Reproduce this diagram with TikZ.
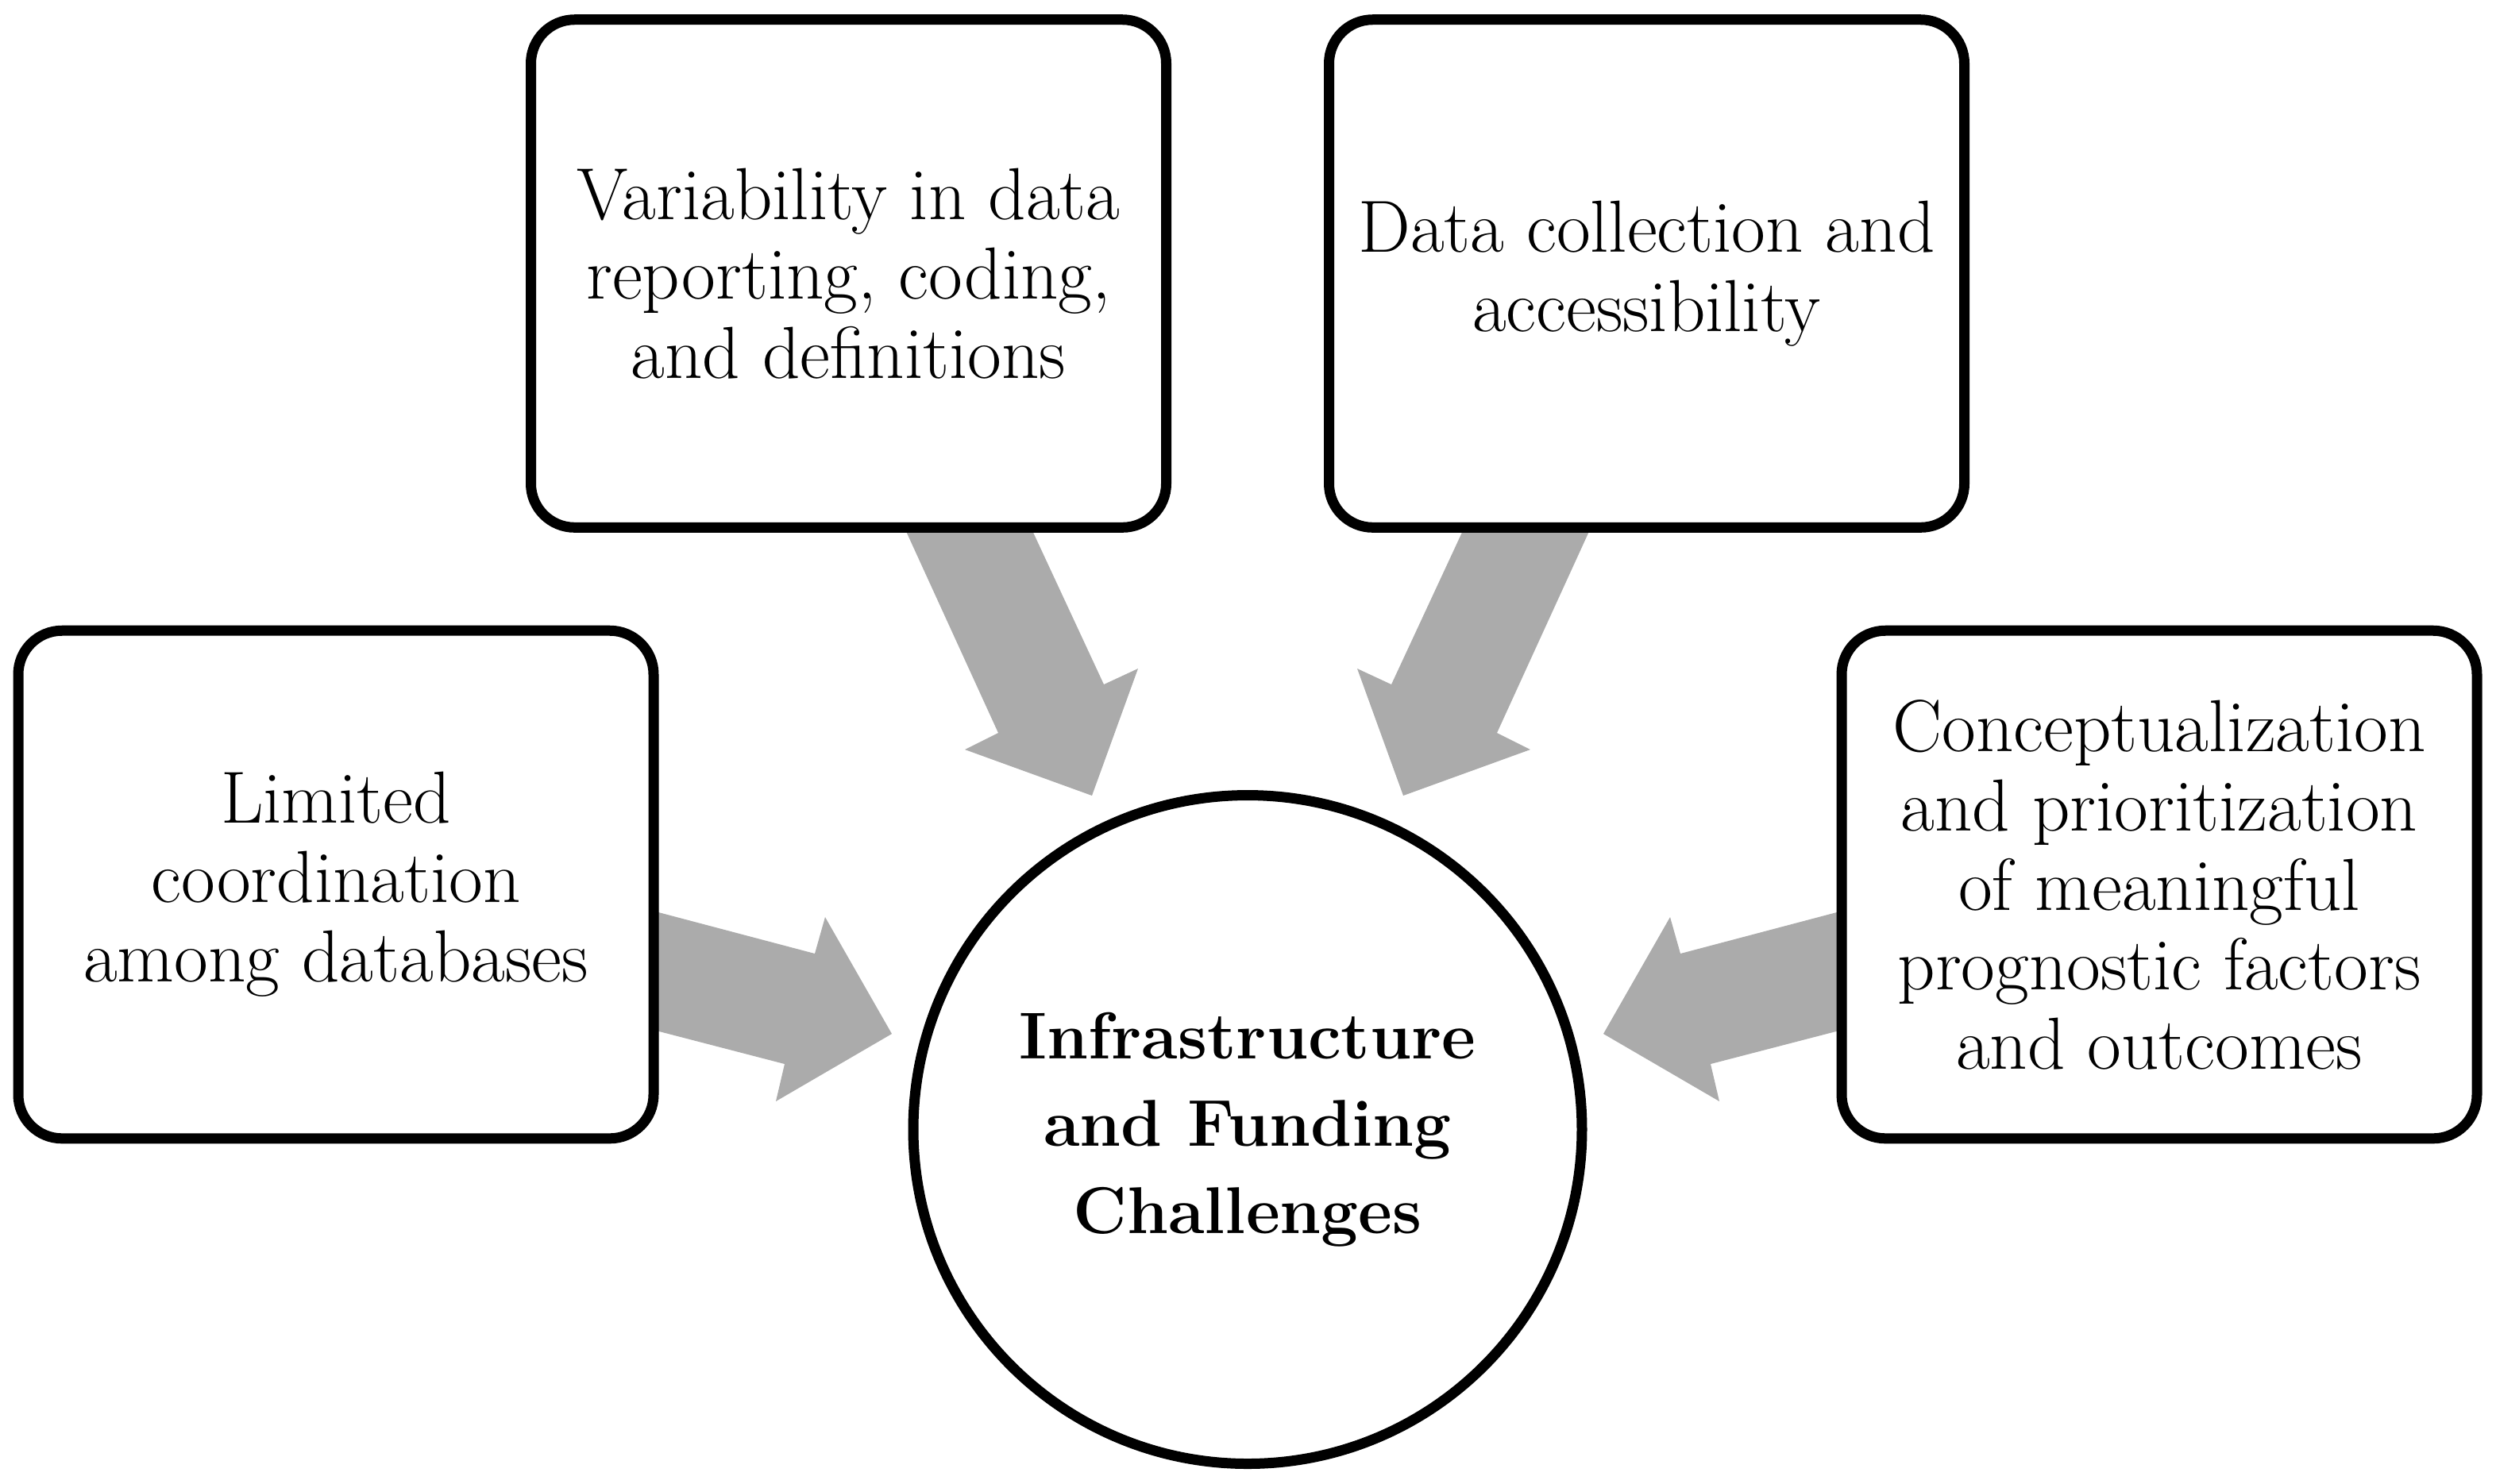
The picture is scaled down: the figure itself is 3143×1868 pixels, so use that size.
\documentclass[tikz,border=0pt]{standalone}
\usepackage{fontspec}
\definecolor{arrowgray}{RGB}{171,171,171}
\pgfdeclarelayer{bg}
\pgfsetlayers{bg,main}
\tikzset{
  box/.style={draw=black, line width=3.12pt, rounded corners=13.2pt, fill=white,
    minimum width=192pt, minimum height=153.5pt, align=center, inner sep=0pt,
    font=\fontsize{22.3}{24}\selectfont},
  hub/.style={circle, draw=black, line width=3.12pt, fill=white,
    minimum size=202.08pt, inner sep=0pt, align=center,
    font=\fontsize{20}{26.4}\selectfont\bfseries},
  blockarrow/.style={fill=arrowgray, draw=none}
}
\begin{document}
\begin{tikzpicture}[x=0.24pt,y=-0.24pt]
\useasboundingbox (0,0) rectangle (3143,1868);
\node[box] (var) at (1068.5,344.5) {Variability in data\\reporting, coding,\\and definitions};
\node[box] (col) at (2073.5,344.5) {Data collection and\\accessibility};
\node[box] (lim) at (423,1114) {Limited\\coordination\\among databases};
\node[box] (con) at (2719,1114) {Conceptualization\\and prioritization\\of meaningful\\prognostic factors\\and outcomes};
\node[hub] (hub) at (1571,1422.5) {Infrastructure\\and Funding\\Challenges};
\begin{pgfonlayer}{bg}
  % from var to hub
  \fill[blockarrow] (1118.5,620) -- (1257,923) -- (1215,944) -- (1375,1002) -- (1433,842) -- (1390,862) -- (1277.5,620) -- cycle;
  % from col to hub
  \fill[blockarrow] (2023.5,620) -- (1885,923) -- (1927,944) -- (1767,1002) -- (1709,842) -- (1752,862) -- (1864.5,620) -- cycle;
  % from lim to hub
  \fill[blockarrow] (780,1136) -- (1026,1201) -- (1039,1155) -- (1123,1302) -- (977,1387) -- (988,1340) -- (780,1286) -- cycle;
  % from con to hub
  \fill[blockarrow] (2362,1136) -- (2116,1201) -- (2103,1155) -- (2019,1302) -- (2165,1387) -- (2154,1340) -- (2362,1286) -- cycle;
\end{pgfonlayer}
\end{tikzpicture}
\end{document}
